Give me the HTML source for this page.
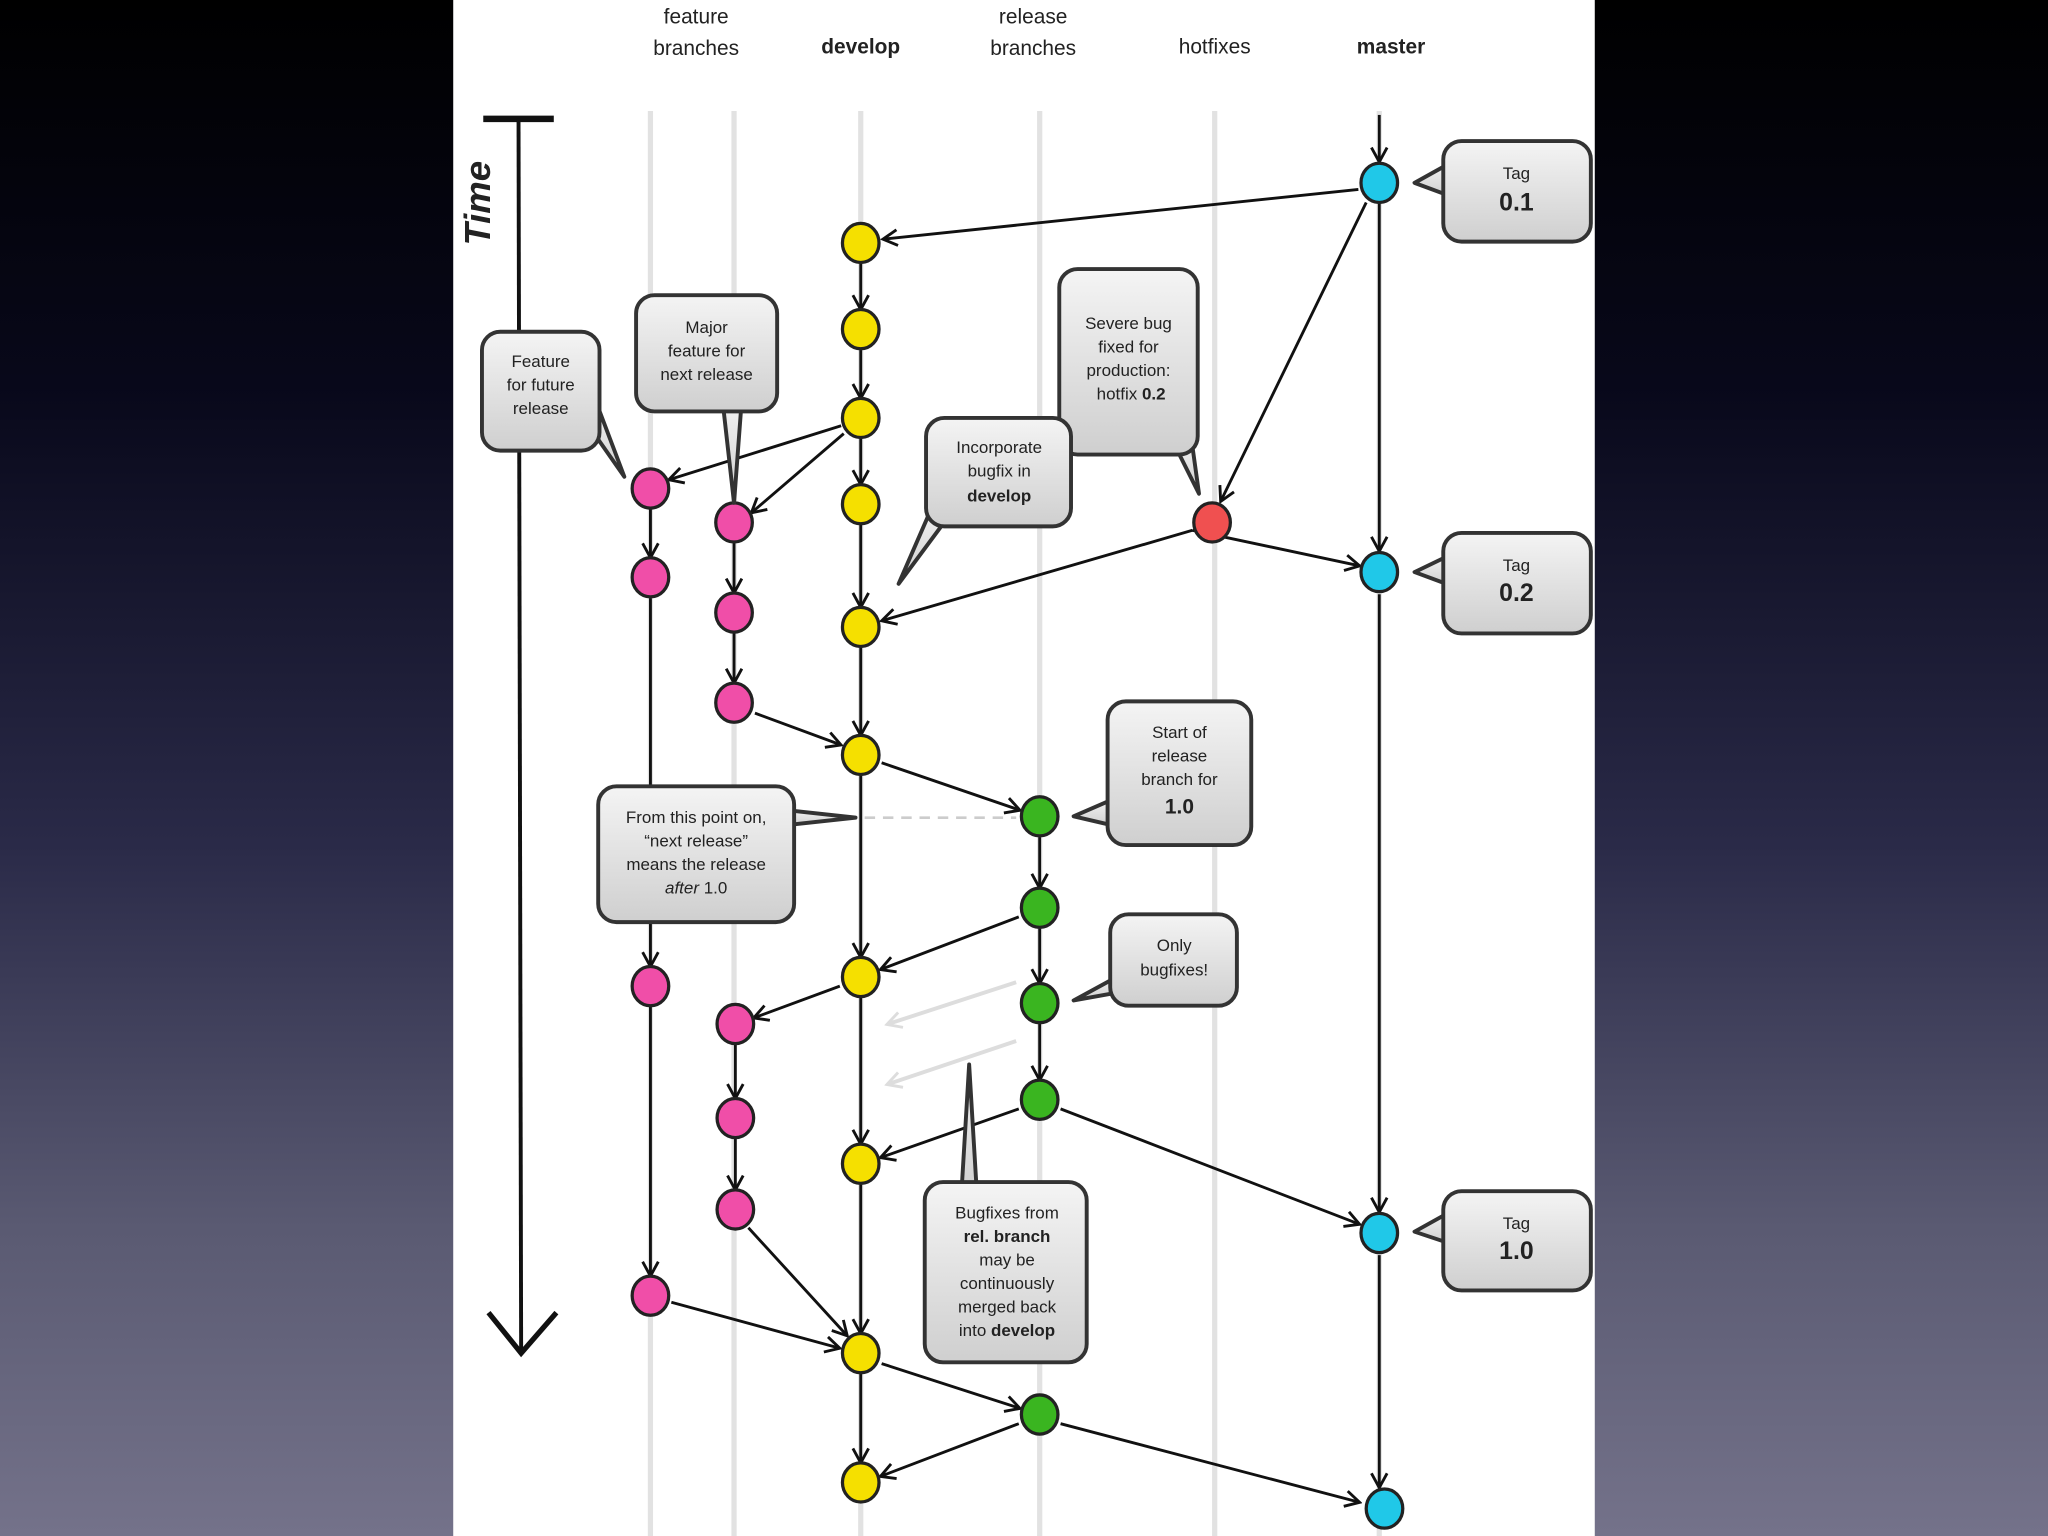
<!DOCTYPE html>
<html><head><meta charset="utf-8"><style>
html,body{margin:0;padding:0;width:2048px;height:1536px;overflow:hidden;}
body{background:linear-gradient(180deg,#000 0%,#08081a 25%,#2a2a48 55%,#5a5a72 80%,#74728a 100%);}
svg{position:absolute;left:0;top:0;}
text{font-family:"Liberation Sans",sans-serif;fill:#222;}
</style></head><body>
<svg width="2048" height="1536" viewBox="0 0 1568 1176" preserveAspectRatio="none" xmlns="http://www.w3.org/2000/svg">
<defs>
<marker id="a" markerWidth="14" markerHeight="14" refX="11" refY="7" orient="auto" markerUnits="userSpaceOnUse">
<path d="M1,1 L12,7 L1,13" fill="none" stroke="#111" stroke-width="2.2"/>
</marker>
<marker id="g" markerWidth="14" markerHeight="14" refX="11" refY="7" orient="auto" markerUnits="userSpaceOnUse">
<path d="M1,1 L12,7 L1,13" fill="none" stroke="#ddd" stroke-width="2.2"/>
</marker>
<linearGradient id="cg" x1="0" y1="0" x2="0" y2="1"><stop offset="0" stop-color="#f4f4f4"/><stop offset="1" stop-color="#cfcfcf"/></linearGradient>
</defs>
<rect x="347" y="0" width="874" height="1176" fill="#fff"/>
<g stroke="#e2e2e2" stroke-width="4">
<line x1="498" y1="85" x2="498" y2="1176"/><line x1="562" y1="85" x2="562" y2="1176"/>
<line x1="659" y1="85" x2="659" y2="1176"/><line x1="796" y1="85" x2="796" y2="1176"/>
<line x1="930" y1="85" x2="930" y2="1176"/><line x1="1056" y1="85" x2="1056" y2="1176"/>
</g>
<g font-size="16" text-anchor="middle">
<text x="533" y="18">feature</text><text x="533" y="42">branches</text>
<text x="659" y="41" font-weight="bold">develop</text>
<text x="791" y="18">release</text><text x="791" y="42">branches</text>
<text x="930" y="41">hotfixes</text>
<text x="1065" y="41" font-weight="bold">master</text>
</g>
<!-- time -->
<line x1="370" y1="91" x2="424" y2="91" stroke="#111" stroke-width="5"/>
<line x1="397" y1="91" x2="399" y2="1035" stroke="#111" stroke-width="3"/>
<path d="M374,1005 L399,1036 L426,1005" fill="none" stroke="#111" stroke-width="4"/>
<text transform="translate(375,188) rotate(-90)" font-size="28" font-weight="bold" font-style="italic">Time</text>
<!-- dashed -->
<line x1="662" y1="626" x2="778" y2="626" stroke="#ccc" stroke-width="2" stroke-dasharray="8,6"/>
<!-- faded arrows -->
<g stroke="#ddd" stroke-width="3" marker-end="url(#g)">
<line x1="778" y1="752" x2="680" y2="784"/><line x1="778" y1="797" x2="680" y2="830"/>
</g>
<g stroke="#111" stroke-width="2.2" marker-end="url(#a)" fill="none">
<!-- master vertical -->
<line x1="1056" y1="88" x2="1056" y2="123"/>
<line x1="1056" y1="156" x2="1056" y2="421"/>
<line x1="1056" y1="455" x2="1056" y2="927"/>
<line x1="1056" y1="961" x2="1056" y2="1138"/>
<line x1="1040" y1="145" x2="677" y2="183"/>
<line x1="1046" y1="155" x2="935" y2="383"/>
<!-- develop vertical -->
<line x1="659" y1="202" x2="659" y2="236"/>
<line x1="659" y1="268" x2="659" y2="304"/>
<line x1="659" y1="336" x2="659" y2="370"/>
<line x1="659" y1="402" x2="659" y2="464"/>
<line x1="659" y1="496" x2="659" y2="562"/>
<line x1="659" y1="594" x2="659" y2="732"/>
<line x1="659" y1="764" x2="659" y2="875"/>
<line x1="659" y1="907" x2="659" y2="1020"/>
<line x1="659" y1="1052" x2="659" y2="1119"/>
<!-- branch outs -->
<line x1="644" y1="326" x2="513" y2="367"/>
<line x1="646" y1="332" x2="576" y2="392"/>
<line x1="913" y1="406" x2="1040" y2="433"/>
<line x1="913" y1="406" x2="676" y2="475"/>
<!-- feature1 -->
<line x1="498" y1="390" x2="498" y2="426"/>
<line x1="498" y1="458" x2="498" y2="739"/>
<line x1="498" y1="771" x2="498" y2="976"/>
<line x1="514" y1="997" x2="642" y2="1032"/>
<!-- feature2 -->
<line x1="562" y1="416" x2="562" y2="453"/>
<line x1="562" y1="485" x2="562" y2="522"/>
<line x1="578" y1="546" x2="643" y2="570"/>
<line x1="675" y1="584" x2="780" y2="620"/>
<!-- release -->
<line x1="796" y1="641" x2="796" y2="679"/>
<line x1="796" y1="711" x2="796" y2="752"/>
<line x1="796" y1="784" x2="796" y2="826"/>
<line x1="780" y1="702" x2="675" y2="742"/>
<line x1="643" y1="755" x2="578" y2="779"/>
<line x1="563" y1="800" x2="563" y2="840"/>
<line x1="563" y1="872" x2="563" y2="910"/>
<line x1="573" y1="940" x2="648" y2="1022"/>
<line x1="780" y1="849" x2="675" y2="886"/>
<line x1="812" y1="849" x2="1040" y2="937"/>
<line x1="675" y1="1044" x2="780" y2="1078"/>
<line x1="780" y1="1090" x2="675" y2="1130"/>
<line x1="812" y1="1090" x2="1040" y2="1150"/>
</g>
<!-- nodes -->
<g stroke="#222" stroke-width="2.5">
<g fill="#f5e000">
<ellipse cx="659" cy="186" rx="14" ry="15"/><ellipse cx="659" cy="252" rx="14" ry="15"/><ellipse cx="659" cy="320" rx="14" ry="15"/><ellipse cx="659" cy="386" rx="14" ry="15"/><ellipse cx="659" cy="480" rx="14" ry="15"/><ellipse cx="659" cy="578" rx="14" ry="15"/><ellipse cx="659" cy="748" rx="14" ry="15"/><ellipse cx="659" cy="891" rx="14" ry="15"/><ellipse cx="659" cy="1036" rx="14" ry="15"/><ellipse cx="659" cy="1135" rx="14" ry="15"/>
</g>
<g fill="#f04ea8">
<ellipse cx="498" cy="374" rx="14" ry="15"/><ellipse cx="498" cy="442" rx="14" ry="15"/><ellipse cx="498" cy="755" rx="14" ry="15"/><ellipse cx="498" cy="992" rx="14" ry="15"/>
<ellipse cx="562" cy="400" rx="14" ry="15"/><ellipse cx="562" cy="469" rx="14" ry="15"/><ellipse cx="562" cy="538" rx="14" ry="15"/><ellipse cx="563" cy="784" rx="14" ry="15"/><ellipse cx="563" cy="856" rx="14" ry="15"/><ellipse cx="563" cy="926" rx="14" ry="15"/>
</g>
<g fill="#3ab520">
<ellipse cx="796" cy="625" rx="14" ry="15"/><ellipse cx="796" cy="695" rx="14" ry="15"/><ellipse cx="796" cy="768" rx="14" ry="15"/><ellipse cx="796" cy="842" rx="14" ry="15"/><ellipse cx="796" cy="1083" rx="14" ry="15"/>
</g>
<ellipse cx="928" cy="400" rx="14" ry="15" fill="#f05050"/>
<g fill="#20c8e8">
<ellipse cx="1056" cy="140" rx="14" ry="15"/><ellipse cx="1056" cy="438" rx="14" ry="15"/><ellipse cx="1056" cy="944" rx="14" ry="15"/><ellipse cx="1060" cy="1155" rx="14" ry="15"/>
</g>
</g>
<!-- callouts -->
<g stroke="#333" stroke-width="3" fill="url(#cg)" stroke-linejoin="round">
<polygon points="1110,125 1083,140 1110,150"/><rect x="1105" y="108" width="113" height="77" rx="14"/>
<polygon points="1110,425 1083,438 1110,448"/><rect x="1105" y="408" width="113" height="77" rx="14"/>
<polygon points="1110,928 1083,943 1110,952"/><rect x="1105" y="912" width="113" height="76" rx="14"/>
<polygon points="450,325 478,365 458,312"/><rect x="369" y="254" width="90" height="91" rx="14"/>
<polygon points="553,305 562,385 568,305"/><rect x="487" y="226" width="108" height="89" rx="14"/>
<polygon points="898,338 918,378 912,335"/><rect x="811" y="206" width="106" height="142" rx="14"/>
<polygon points="715,385 688,447 728,393"/><rect x="709" y="320" width="111" height="83" rx="14"/>
<polygon points="852,612 822,625 852,632"/><rect x="848" y="537" width="110" height="110" rx="14"/>
<polygon points="600,620 655,626 600,632"/><rect x="458" y="602" width="150" height="104" rx="14"/>
<polygon points="855,748 822,766 855,760"/><rect x="850" y="700" width="97" height="70" rx="14"/>
<polygon points="736,915 742,815 748,915"/><rect x="708" y="905" width="124" height="138" rx="14"/>
</g>
<g text-anchor="middle" font-size="13">
<text x="1161" y="137">Tag</text><text x="1161" y="161" font-size="19" font-weight="bold">0.1</text>
<text x="1161" y="437">Tag</text><text x="1161" y="460" font-size="19" font-weight="bold">0.2</text>
<text x="1161" y="941">Tag</text><text x="1161" y="964" font-size="19" font-weight="bold">1.0</text>
<text x="414" y="281">Feature</text><text x="414" y="299">for future</text><text x="414" y="317">release</text>
<text x="541" y="255">Major</text><text x="541" y="273">feature for</text><text x="541" y="291">next release</text>
<text x="864" y="252">Severe bug</text><text x="864" y="270">fixed for</text><text x="864" y="288">production:</text><text x="866" y="306">hotfix <tspan font-weight="bold">0.2</tspan></text>
<text x="765" y="347">Incorporate</text><text x="765" y="365">bugfix in</text><text x="765" y="384" font-weight="bold">develop</text>
<text x="903" y="565">Start of</text><text x="903" y="583">release</text><text x="903" y="601">branch for</text><text x="903" y="623" font-size="16" font-weight="bold">1.0</text>
<text x="533" y="630">From this point on,</text><text x="533" y="648">“next release”</text><text x="533" y="666">means the release</text><text x="533" y="684"><tspan font-style="italic">after</tspan> 1.0</text>
<text x="899" y="728">Only</text><text x="899" y="747">bugfixes!</text>
<text x="771" y="933">Bugfixes from</text><text x="771" y="951" font-weight="bold">rel. branch</text><text x="771" y="969">may be</text><text x="771" y="987">continuously</text><text x="771" y="1005">merged back</text><text x="771" y="1023">into <tspan font-weight="bold">develop</tspan></text>
</g>
</svg>
</body></html>
